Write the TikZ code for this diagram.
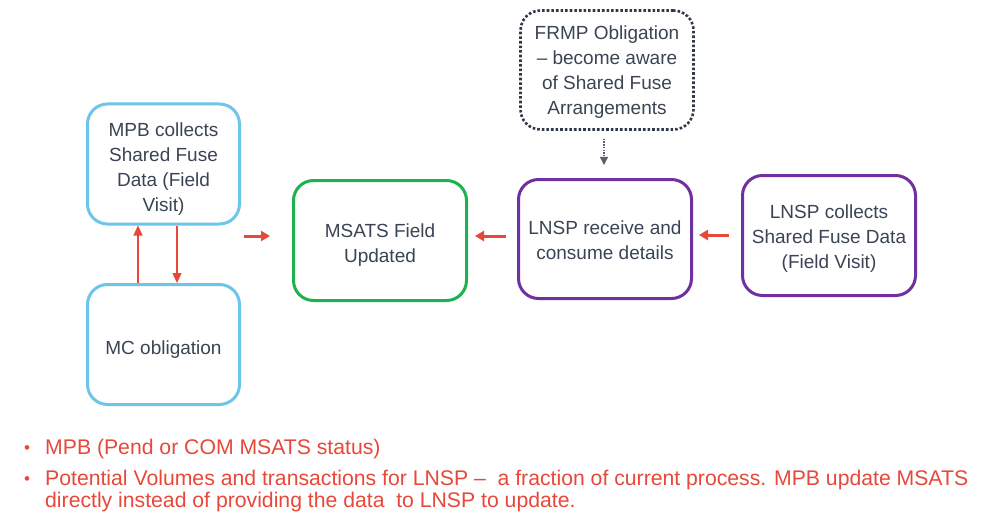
\documentclass[tikz,border=0pt]{standalone}
\usepackage{fontspec}
\setmainfont{Liberation Sans}
\usetikzlibrary{arrows.meta}
\definecolor{tx}{HTML}{3A4454}
\definecolor{bluebox}{HTML}{6EC5EA}
\definecolor{greenbox}{HTML}{1DB250}
\definecolor{purplebox}{HTML}{7030A0}
\definecolor{redc}{HTML}{E8483A}
\definecolor{darkc}{HTML}{2F3947}
\begin{document}
\begin{tikzpicture}[x=1pt,y=-1pt,
  box/.style={draw, line width=3pt, rounded corners=20pt, inner sep=0pt},
  boxtext/.style={align=center, text=tx, font=\fontsize{19}{25}\selectfont, inner sep=0pt, yshift=-5pt},
  bigarrow/.style={draw=redc, line width=3pt, -{Triangle[length=9pt,width=10pt]}},
  thinarrow/.style={draw=redc, line width=1.3pt, -{Triangle[length=10pt,width=9pt]}},
  dasharrow/.style={draw=darkc!80, line width=1.1pt, dash pattern=on 1.5pt off 1.2pt, -{Triangle[length=8pt,width=8pt]}},
  bullettext/.style={text=redc, font=\fontsize{21.2}{22}\selectfont, inner sep=0pt}
]
\useasboundingbox[fill=white] (0,0) rectangle (988,516);

\node[box, draw=bluebox, minimum width=152, minimum height=120,
  label={[boxtext]center:{MPB collects\\Shared Fuse\\Data (Field\\Visit)}}] (mpb) at (163.5,164) {};
\node[box, draw=bluebox, minimum width=152, minimum height=120,
  label={[boxtext]center:{MC obligation}}] (mc) at (163.5,344.5) {};
\node[box, draw=greenbox, minimum width=173, minimum height=120,
  label={[boxtext]center:{MSATS Field\\Updated}}] (msats) at (380,240.5) {};
\node[box, draw=purplebox, minimum width=173, minimum height=119,
  label={[boxtext, yshift=4pt]center:{LNSP receive and\\consume details}}] (lnspr) at (605,239) {};
\node[box, draw=purplebox, minimum width=173, minimum height=120,
  label={[boxtext, yshift=2pt]center:{LNSP collects\\Shared Fuse Data\\(Field Visit)}}] (lnspc) at (829,235.5) {};
\node[box, draw=darkc, line width=2.6pt, dotted, minimum width=173, minimum height=119,
  label={[boxtext, yshift=2.5pt]center:{FRMP Obligation\\– become aware\\of Shared Fuse\\Arrangements}}] (frmp) at (607,70) {};

% vertical arrows between MPB and MC
\draw[thinarrow] ([xshift=-25.5pt]mc.north) -- ([xshift=-25.5pt]mc.north |- mpb.south);
\draw[thinarrow] ([xshift=13.5pt]mpb.south) -- ([xshift=13.5pt]mpb.south |- mc.north);

% horizontal red arrows
\coordinate (a1) at (244,236);
\draw[bigarrow, shorten >=22pt] (a1) -- (a1 -| msats.west);
\draw[bigarrow, shorten <=11pt, shorten >=7pt] ([yshift=3pt]lnspr.west) -- ([yshift=3pt]lnspr.west -| msats.east);
\draw[bigarrow, shorten <=12pt, shorten >=6pt] ([yshift=0.5pt]lnspc.west) -- ([yshift=0.5pt]lnspc.west -| lnspr.east);

% dashed arrow
\draw[dasharrow, shorten <=8pt, shorten >=13pt] ([xshift=-3pt]frmp.south) -- ([xshift=-3pt]frmp.south |- lnspr.north);

% bullets
\node[bullettext, font=\fontsize{17}{22}\selectfont, anchor=base west] (d1) at (24,453) {•};
\node[bullettext, anchor=base west] (t1) at (45,454) {MPB (Pend or COM MSATS status)};
\node[bullettext, font=\fontsize{17}{22}\selectfont, anchor=base west] (d2) at (24,484) {•};
\node[bullettext, anchor=base west] (t2) at (45,485) {Potential Volumes and transactions for LNSP –\ \ a fraction of current process. MPB update MSATS};
\node[bullettext, anchor=base west] (t3) at (45,507) {directly instead of providing the data\ \ to LNSP to update.};
\end{tikzpicture}
\end{document}
